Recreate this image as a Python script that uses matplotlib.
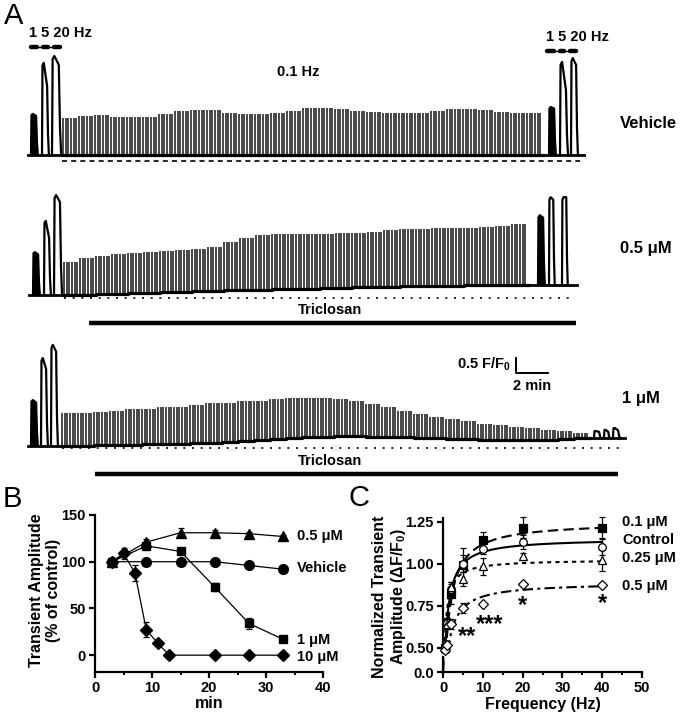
import matplotlib
matplotlib.use("Agg")
import matplotlib.pyplot as plt
from matplotlib.ticker import MultipleLocator, FixedLocator
import numpy as np

plt.rcParams['font.family'] = ['Liberation Sans', 'DejaVu Sans']
plt.rcParams['font.weight'] = 'bold'
plt.rcParams['mathtext.fontset'] = 'custom'
plt.rcParams['mathtext.rm'] = 'Liberation Sans:bold'
plt.rcParams['mathtext.it'] = 'Liberation Sans:bold'
plt.rcParams['mathtext.bf'] = 'Liberation Sans:bold'

# ---------------- A: 0.1 Hz transients, amplitude (F/F0) and baseline drift per minute
veh_amp = [1.23, 1.30, 1.33, 1.27, 1.27, 1.27, 1.37, 1.47, 1.50, 1.50,
           1.40, 1.37, 1.37, 1.40, 1.47, 1.57, 1.57, 1.53, 1.47, 1.43,
           1.40, 1.40, 1.40, 1.47, 1.53, 1.53, 1.50, 1.43, 1.40, 1.40]
veh_drift = [0] * 30
mid_amp = [1.10, 1.23, 1.27, 1.33, 1.33, 1.37, 1.37, 1.40, 1.40, 1.47,
           1.60, 1.73, 1.83, 1.83, 1.83, 1.83, 1.80, 1.83, 1.80, 1.83,
           1.90, 1.90, 1.90, 1.93, 1.93, 1.90, 1.93, 1.97, 2.03]
mid_drift = [0, 0, 0.03, 0.03, 0.07, 0.07, 0.10, 0.10, 0.13, 0.13,
             0.17, 0.17, 0.17, 0.20, 0.20, 0.20, 0.23, 0.23, 0.27, 0.27,
             0.27, 0.30, 0.30, 0.30, 0.30, 0.33, 0.33, 0.33, 0.33]
hi_amp = [1.10, 1.10, 1.10, 1.13, 1.20, 1.17, 1.23, 1.23, 1.27, 1.33,
          1.30, 1.33, 1.30, 1.33, 1.33, 1.30, 1.30, 1.23, 1.17, 1.10,
          1.00, 0.87, 0.80, 0.70, 0.67, 0.60, 0.53, 0.50, 0.43, 0.40,
          0.33, 0.27, 0.17]
hi_drift = [0, 0, 0.03, 0.03, 0.03, 0.07, 0.07, 0.07, 0.10, 0.10,
            0.13, 0.17, 0.20, 0.23, 0.27, 0.30, 0.30, 0.33, 0.33, 0.30,
            0.30, 0.30, 0.27, 0.27, 0.23, 0.23, 0.20, 0.20, 0.20, 0.20,
            0.20, 0.23, 0.27]
# 1, 5, 20 Hz test trains: [peak, level at end of train] in F/F0
veh_pre = [[1.37, 1.30], [3.07, 2.30], [3.30, 3.00]]
veh_post = [[1.60, 1.55], [3.10, 2.17], [3.23, 3.00]]
mid_pre = [[1.43, 1.35], [2.47, 1.90], [3.33, 3.10]]
mid_post = [[2.33, 2.25], [2.93, 2.85], [2.93, 2.93]]
hi_pre = [[1.53, 1.45], [2.93, 2.57], [3.37, 3.15]]
hi_post = [[0.23, 0.20], [0.27, 0.20], [0.33, 0.25]]

# ---------------- B
b_min = [3, 9, 15, 21, 27, 33]
b_vehicle = [100, 100, 100, 100, 96, 92]
b_vehicle_err = [1, 1, 2, 2, 3, 2]
b_05 = [100, 121, 131, 131, 130, 127]
b_05_err = [1, 3, 5, 3, 2, 2]
b_1 = [100, 117, 111, 73, 34, 17]
b_1_err = [1, 2, 2, 4, 6, 2]
b_10_min = [3, 5, 7, 9, 11, 13, 21, 27, 33]
b_10 = [100, 109, 88, 27, 13, 0, 0, 0, 0]
b_10_err = [1, 6, 9, 8, 3, 1, 1, 1, 1]

# ---------------- C
c_hz = [0.5, 1, 2, 5, 10, 20, 40]
c_01 = [0.50, 0.65, 0.82, 0.995, 1.14, 1.215, 1.215]
c_01_err = [0.02, 0.03, 0.06, 0.10, 0.05, 0.06, 0.06]
c_ctrl = [0.50, 0.65, 0.85, 1.00, 1.09, 1.13, 1.10]
c_ctrl_err = [0.02, 0.03, 0.04, 0.05, 0.03, 0.04, 0.05]
c_025 = [0.50, 0.64, 0.86, 0.91, 0.985, 1.045, 1.02]
c_025_err = [0.02, 0.03, 0.03, 0.04, 0.05, 0.02, 0.06]
c_05 = [0.49, 0.52, 0.645, 0.74, 0.76, 0.88, 0.875]
c_05_err = [0.02, 0.02, 0.03, 0.03, 0.01, 0.01, 0.01]
# hyperbolic fits: (Ymax, K)
fit_01 = (1.25, 1.2)
fit_ctrl = (1.151, 0.757)
fit_025 = (1.025, 0.42)
fit_05 = (0.889, 1.04)

W, H = 680, 715
PX_MIN = 16.0   # 2 min scale bar = 32 px
PX_F = 30.0     # 0.5 F/F0 scale bar = 15 px

fig = plt.figure(figsize=(W / 100, H / 100), dpi=100)


def fx(px):
    return px / W


def fy(py):
    return 1 - py / H


def tx(px):
    return (px - 62) / PX_MIN


def ty(py):
    return (H - py) / PX_F


axa = fig.add_axes([0, 0, 1, 1])
axa.set_xlim(tx(0), tx(W))
axa.set_ylim(0, H / PX_F)
axa.axis('off')


def pulse(x0, x1, base, peak, end, filled):
    a, b = tx(x0), tx(x1)
    w = b - a
    xs = [a, a + 0.08 * w, a + 0.3 * w, b - 0.15 * w, b, b + 0.15 * w]
    ys = [base, base + peak * 0.97, base + peak, base + end, base + end * 0.3, base]
    if filled:
        axa.fill(xs, ys, color='k', lw=0)
    axa.plot(xs, ys, color='k', lw=1.6, solid_joinstyle='round')


def draw_trace(base_py, amps, drift, first_px, pre, pre_px, post, post_px,
               start_px, end_px):
    base = ty(base_py)
    t0 = tx(first_px)
    axa.plot([tx(start_px), t0], [base, base], color='k', lw=2)
    for i, ((x0, x1), (pk, en)) in enumerate(zip(pre_px, pre)):
        pulse(x0, x1, base, pk, en, i == 0)
    n = len(amps)
    idx = np.repeat(np.arange(n), 6)
    times = t0 + np.arange(n * 6) / 6.0
    b = base + np.array(drift)[idx]
    axa.vlines(times, b, b + np.array(amps)[idx], color='#383838', lw=1.3)
    axa.plot(t0 + np.arange(n + 1), base + np.append(drift, drift[-1]),
             drawstyle='steps-post', color='k', lw=2.3)
    pb = base + drift[-1]
    axa.plot([t0 + n, tx(end_px)], [pb, pb], color='k', lw=2)
    for i, ((x0, x1), (pk, en)) in enumerate(zip(post_px, post)):
        pulse(x0, x1, pb, pk, en, i == 0 and pk > 1)


draw_trace(155, veh_amp, veh_drift, 63, veh_pre, [(31, 37), (42, 48), (52, 60)],
           veh_post, [(549, 555), (560, 567), (571, 577)], 28, 584)
draw_trace(295, mid_amp, mid_drift, 64, mid_pre, [(33, 39), (44, 50), (54, 61)],
           mid_post, [(538, 544), (549, 554), (562, 567)], 29, 577)
draw_trace(446, hi_amp, hi_drift, 62, hi_pre, [(31, 37), (41, 47), (51, 57)],
           hi_post, [(594, 600), (604, 609), (613, 619)], 28, 625)

# dashed reference baselines
axa.plot([tx(62), tx(580)], [ty(161)] * 2, color='k', lw=1.2, dashes=(3, 2.5))
axa.plot([tx(64), tx(575)], [ty(298)] * 2, color='k', lw=1.2, dashes=(1.2, 4))
axa.plot([tx(62), tx(625)], [ty(448)] * 2, color='k', lw=1.2, dashes=(1.2, 4))

# stimulus bars
for segs, py in [([(31, 37), (43, 48), (54, 60)], 47), ([(547, 554), (560, 564), (570, 576)], 51)]:
    axa.plot([tx(segs[0][0]), tx(segs[-1][1])], [ty(py)] * 2, color='k', lw=1)
    for x0, x1 in segs:
        axa.plot([tx(x0), tx(x1)], [ty(py)] * 2, color='k', lw=3.2, solid_capstyle='round')
fig.text(fx(60), fy(33), '1 5 20 Hz', ha='center', va='center', fontsize=10.5)
fig.text(fx(577), fy(37), '1 5 20 Hz', ha='center', va='center', fontsize=10.5)
fig.text(fx(298), fy(72), '0.1 Hz', ha='center', va='center', fontsize=10.5)

# triclosan bars
axa.plot([tx(89), tx(576)], [ty(323)] * 2, color='k', lw=3.2, solid_capstyle='butt')
axa.plot([tx(95), tx(618)], [ty(474)] * 2, color='k', lw=3.2, solid_capstyle='butt')
fig.text(fx(330), fy(310), 'Triclosan', ha='center', va='center', fontsize=10.5)
fig.text(fx(330), fy(461), 'Triclosan', ha='center', va='center', fontsize=10.5)

fig.text(fx(620), fy(123), 'Vehicle', ha='left', va='center', fontsize=12)
fig.text(fx(620), fy(248), '0.5 μM', ha='left', va='center', fontsize=12)
fig.text(fx(622), fy(398), '1 μM', ha='left', va='center', fontsize=12)

# scale bar: 0.5 F/F0, 2 min
sx, sy = tx(516), ty(373)
axa.plot([sx, sx, sx + 2], [sy + 0.5, sy, sy], color='k', lw=1.4)
fig.text(fx(511), fy(364), '0.5 F/F$_0$', ha='right', va='center', fontsize=10.5)
fig.text(fx(532), fy(386), '2 min', ha='center', va='center', fontsize=10.5)

fig.text(fx(4), fy(2), 'A', ha='left', va='top', fontsize=21, fontweight='normal')
fig.text(fx(3), fy(485), 'B', ha='left', va='top', fontsize=21, fontweight='normal')
fig.text(fx(348), fy(484), 'C', ha='left', va='top', fontsize=21, fontweight='normal')


def style(ax):
    for s in ['top', 'right']:
        ax.spines[s].set_visible(False)
    for s in ['left', 'bottom']:
        ax.spines[s].set_linewidth(1.6)
    ax.tick_params(which='major', width=1.6, length=4.5, labelsize=10.5, pad=2)
    ax.tick_params(which='minor', width=1.4, length=2.5)
    for lab in ax.get_xticklabels() + ax.get_yticklabels():
        lab.set_fontweight('bold')


# ---------------- B
axb = fig.add_axes([fx(95), fy(672), 228 / W, 157 / H])
axb.set_xlim(0, 40)
axb.set_ylim(-18, 150)
axb.xaxis.set_major_locator(MultipleLocator(10))
axb.xaxis.set_minor_locator(MultipleLocator(5))
axb.yaxis.set_major_locator(FixedLocator([0, 50, 100, 150]))
kw = dict(color='k', lw=0.9, capsize=2.5, elinewidth=0.9, capthick=0.9, clip_on=False)
axb.errorbar(b_min, b_05, yerr=b_05_err, marker='^', ms=7, **kw)
axb.errorbar(b_min, b_vehicle, yerr=b_vehicle_err, marker='o', ms=7, **kw)
axb.errorbar(b_min, b_1, yerr=b_1_err, marker='s', ms=6, **kw)
axb.errorbar(b_10_min, b_10, yerr=b_10_err, marker='D', ms=6, **kw)
style(axb)
fig.text(fx(297), fy(536), '0.5 μM', ha='left', va='center', fontsize=10.5)
fig.text(fx(297), fy(568), 'Vehicle', ha='left', va='center', fontsize=10.5)
fig.text(fx(297), fy(640), '1 μM', ha='left', va='center', fontsize=10.5)
fig.text(fx(297), fy(657), '10 μM', ha='left', va='center', fontsize=10.5)
fig.text(fx(45), fy(590), 'Transient Amplitude\n(% of control)', rotation=90,
         ha='center', va='center', multialignment='center', fontsize=11.5, linespacing=1.1)
fig.text(fx(209), fy(704), 'min', ha='center', va='center', fontsize=11.5)

# ---------------- C (broken y axis)
axc = fig.add_axes([fx(443), fy(652), 199 / W, 134 / H])
axc0 = fig.add_axes([fx(443), fy(672), 199 / W, 15 / H])
f = np.linspace(0, 40, 800)
series = [(c_01, c_01_err, fit_01, 's', 'k', (5, 2.5)),
          (c_ctrl, c_ctrl_err, fit_ctrl, 'o', 'white', None),
          (c_025, c_025_err, fit_025, '^', 'white', (2, 2)),
          (c_05, c_05_err, fit_05, 'D', 'white', (5, 2, 1.5, 2))]
for vals, err, (ymax, k), mk, fc, dash in series:
    curve = ymax * f / (k + f)
    for ax in (axc, axc0):
        ln, = ax.plot(f, curve, color='k', lw=1.5)
        if dash:
            ln.set_dashes(dash)
    axc.errorbar(c_hz, vals, yerr=err, fmt='none', ecolor='k', elinewidth=0.9,
                 capsize=2.5, capthick=0.9, clip_on=False)
    axc.plot(c_hz, vals, ls='none', marker=mk, mfc=fc, mec='k', mew=0.9,
             ms=5 if mk == 'D' else 5.5, clip_on=False, zorder=4)
axc.set_xlim(0, 50)
axc.set_ylim(0.476, 1.272)
axc.yaxis.set_major_locator(FixedLocator([0.5, 0.75, 1.0, 1.25]))
axc.set_yticklabels(['0.50', '0.75', '1.00', '1.25'])
axc.spines['bottom'].set_visible(False)
axc0.set_xlim(0, 50)
axc0.set_ylim(0, 0.09)
axc0.yaxis.set_major_locator(FixedLocator([0]))
axc0.set_yticklabels(['0.0'])
axc0.xaxis.set_major_locator(MultipleLocator(10))
axc0.xaxis.set_minor_locator(MultipleLocator(5))
style(axc)
style(axc0)
axc.tick_params(axis='x', which='both', bottom=False, labelbottom=False)

for txt, px, py in [('**', 467, 637), ('***', 490, 625), ('*', 523, 606), ('*', 603, 604)]:
    fig.text(fx(px), fy(py), txt, ha='center', va='center', fontsize=17)
fig.text(fx(622), fy(522), '0.1 μM', ha='left', va='center', fontsize=10.5)
fig.text(fx(622), fy(540), 'Control', ha='left', va='center', fontsize=10.5)
fig.text(fx(622), fy(558), '0.25 μM', ha='left', va='center', fontsize=10.5)
fig.text(fx(622), fy(586), '0.5 μM', ha='left', va='center', fontsize=10.5)
fig.text(fx(390), fy(597), 'Normalized Transient\nAmplitude ($\\Delta$F/F$_0$)', rotation=90,
         ha='center', va='center', multialignment='center', fontsize=11.5, linespacing=1.1)
fig.text(fx(543), fy(704), 'Frequency (Hz)', ha='center', va='center', fontsize=11.5)

fig.savefig('out.png', dpi=100)
